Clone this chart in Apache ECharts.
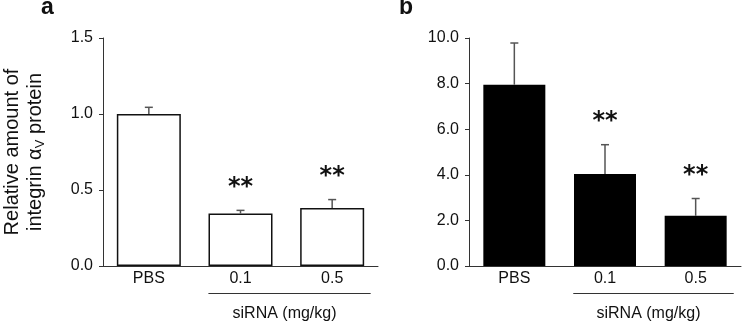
<!DOCTYPE html>
<html>
<head>
<meta charset="utf-8">
<script src="https://cdn.jsdelivr.net/npm/echarts@6/dist/echarts.min.js"></script>
<style>
html, body { margin: 0; padding: 0; background: #fff; }
#main { width: 749px; height: 321px; }
</style>
</head>
<body>
<div id="main"></div>
<script>
var categories = ["PBS", "0.1", "0.5"];

// panel a: relative amount of integrin alpha-v protein
var meanA = [1.0, 0.345, 0.382];
var errA = [0.044, 0.021, 0.055];
var sigA = ["", "**", "**"];

// panel b
var meanB = [7.95, 4.03, 2.2];
var errB = [1.83, 1.29, 0.76];
var sigB = ["", "**", "**"];

var groupLabel = "siRNA (mg/kg)";
var fontFam = "Liberation Sans, Arial, sans-serif";

var myChart = echarts.init(document.getElementById("main"));

function errRender(mean, err, sig) {
    return function(params, api) {
        var i = params.dataIndex;
        var top = api.coord([i, mean[i]]);
        var hi = api.coord([i, mean[i] + err[i]]);
        var kids = [
            {
                type: "line",
                shape: { x1: top[0], y1: top[1], x2: hi[0], y2: hi[1] },
                style: { stroke: "#555", lineWidth: 1.5 }
            },
            {
                type: "line",
                shape: { x1: hi[0] - 4, y1: hi[1], x2: hi[0] + 4, y2: hi[1] },
                style: { stroke: "#555", lineWidth: 1.5 }
            }
        ];
        if (sig[i]) {
            kids.push({
                type: "text",
                style: {
                    text: sig[i],
                    x: hi[0],
                    y: hi[1] - 22.5,
                    align: "center",
                    verticalAlign: "middle",
                    font: "bold 24px DejaVu Sans",
                    fill: "#111"
                }
            });
        }
        return { type: "group", children: kids };
    };
}

function bracketRender(params, api) {
    var band = api.size([1, 0])[0];
    var p1 = api.coord([api.value(0), 0]);
    var p2 = api.coord([api.value(1), 0]);
    var x1 = p1[0] - band * 0.35;
    var x2 = p2[0] + band * 0.42;
    var y = p1[1] + 27.5;
    return {
        type: "group",
        children: [
            {
                type: "line",
                shape: { x1: x1, y1: y, x2: x2, y2: y },
                style: { stroke: "#333", lineWidth: 1 }
            },
            {
                type: "text",
                style: {
                    text: groupLabel,
                    x: (x1 + x2) / 2 - 5,
                    y: y + 20,
                    align: "center",
                    verticalAlign: "middle",
                    font: "16px " + fontFam,
                    fill: "#111"
                }
            }
        ]
    };
}

function yAxisOpt(idx, max, interval) {
    return {
        gridIndex: idx,
        type: "value",
        min: 0,
        max: max,
        interval: interval,
        axisLine: { show: true, lineStyle: { color: "#333", width: 1 } },
        axisTick: { show: true, length: 4, lineStyle: { color: "#333" } },
        splitLine: { show: false },
        axisLabel: {
            margin: 10,
            fontSize: 16,
            fontFamily: fontFam,
            color: "#111",
            formatter: function(v) { return v.toFixed(1); }
        }
    };
}

function xAxisOpt(idx) {
    return {
        gridIndex: idx,
        type: "category",
        data: categories,
        axisLine: { lineStyle: { color: "#333", width: 1 } },
        axisTick: { show: false },
        axisLabel: { margin: 5, fontSize: 16, fontFamily: fontFam, color: "#111" }
    };
}

var option = {
    animation: false,
    backgroundColor: "#fff",
    title: [
        { text: "a", left: 41, top: -4, padding: 0,
          textStyle: { fontSize: 23, fontWeight: "bold", fontFamily: fontFam, color: "#111" } },
        { text: "b", left: 399, top: -4, padding: 0,
          textStyle: { fontSize: 23, fontWeight: "bold", fontFamily: fontFam, color: "#111" } }
    ],
    grid: [
        { left: 96, top: 38, width: 282, height: 228 },
        { left: 469, top: 38, width: 272, height: 228 }
    ],
    xAxis: [xAxisOpt(0), xAxisOpt(1)],
    yAxis: [
        (function() {
            var y = yAxisOpt(0, 1.5, 0.5);
            y.name = "Relative amount of\nintegrin {a|α}{sub|V} protein";
            y.nameLocation = "middle";
            y.nameRotate = 90;
            y.nameGap = 56;
            y.nameTextStyle = {
                fontSize: 20,
                fontFamily: fontFam,
                color: "#111",
                lineHeight: 23,
                rich: {
                    a: { fontSize: 20, fontFamily: fontFam, color: "#111", lineHeight: 23 },
                    sub: { fontSize: 13, fontFamily: fontFam, color: "#111", lineHeight: 23, padding: [9, 0, 0, 0] }
                }
            };
            return y;
        })(),
        yAxisOpt(1, 10, 2)
    ],
    series: [
        {
            type: "bar",
            xAxisIndex: 0,
            yAxisIndex: 0,
            barWidth: 64,
            data: meanA,
            itemStyle: { color: "#fff", borderColor: "#111", borderWidth: 1.5 }
        },
        {
            type: "custom",
            xAxisIndex: 0,
            yAxisIndex: 0,
            data: [0, 1, 2],
            renderItem: errRender(meanA, errA, sigA),
            z: 5
        },
        {
            type: "custom",
            xAxisIndex: 0,
            yAxisIndex: 0,
            data: [[1, 2]],
            renderItem: bracketRender
        },
        {
            type: "bar",
            xAxisIndex: 1,
            yAxisIndex: 1,
            barWidth: 62,
            data: meanB,
            itemStyle: { color: "#000" }
        },
        {
            type: "custom",
            xAxisIndex: 1,
            yAxisIndex: 1,
            data: [0, 1, 2],
            renderItem: errRender(meanB, errB, sigB),
            z: 5
        },
        {
            type: "custom",
            xAxisIndex: 1,
            yAxisIndex: 1,
            data: [[1, 2]],
            renderItem: bracketRender
        }
    ]
};
myChart.setOption(option);
</script>
</body>
</html>
